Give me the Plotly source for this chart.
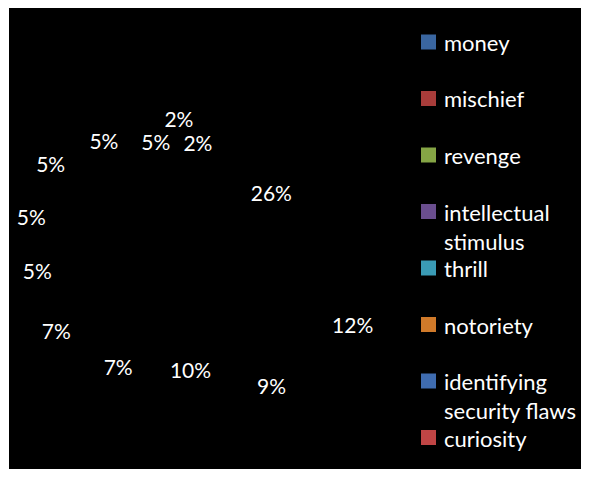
import plotly.graph_objects as go

# ---- data ----
labels = ["money", "mischief", "revenge", "intellectual stimulus", "thrill",
          "notoriety", "identifying security flaws", "curiosity",
          "other 1", "other 2", "other 3", "other 4", "other 5"]
values = [26, 12, 9, 10, 7, 7, 5, 5, 5, 5, 5, 2, 2]
legend_labels = ["money", "mischief", "revenge", "intellectual<br>stimulus", "thrill",
                 "notoriety", "identifying<br>security flaws", "curiosity"]
legend_colors = ["#3A66A0", "#A83C3A", "#85A545", "#6A4E8E", "#3A9BB5",
                 "#D07A2A", "#3F6CB0", "#C04545"]
slice_colors = ["#000000"] * len(values)
# per-slice pull: mimics the tilted (3-D) pie's elliptical label ring
slice_pull = [0.18, 0.63, 0.44, 0.2, 0.36, 0.57, 0.54, 0.62, 0.63, 0.41, 0.17, 0.22, 0.0]

# page body has an 8px margin, so the figure is 16px smaller than the window
W, H = 573, 461
FONT = "Lato, Open Sans, sans-serif"


def fx(px):
    return px / W


def fy(px):
    return 1 - px / H


fig = go.Figure()
fig.add_trace(go.Pie(
    labels=labels, values=values, sort=False, direction="clockwise", rotation=0,
    marker=dict(colors=slice_colors, line=dict(width=0)),
    pull=slice_pull,
    texttemplate="%{percent:.0%}",
    textposition="inside", insidetextorientation="horizontal",
    textfont=dict(color="white", size=21, family=FONT),
    domain=dict(x=[fx(1.5), fx(392.5)], y=[fy(442.5), fy(51.5)]),
    showlegend=False, hoverinfo="label+percent",
))

shapes = [dict(type="rect", xref="paper", yref="paper",
               x0=fx(1), x1=1, y0=0, y1=1,
               fillcolor="black", line=dict(width=0), layer="below")]
annotations = []
top_px, step_px = 34, 56.5
for i, (lab, col) in enumerate(zip(legend_labels, legend_colors)):
    yc = top_px + i * step_px
    shapes.append(dict(type="rect", xref="paper", yref="paper",
                       x0=fx(413), x1=fx(428), y0=fy(yc + 7.5), y1=fy(yc - 7.5),
                       fillcolor=col, line=dict(color=col, width=0)))
    annotations.append(dict(xref="paper", yref="paper", x=fx(434), y=fy(yc - 15),
                            xanchor="left", yanchor="top", align="left", showarrow=False,
                            text=lab, font=dict(color="white", size=22, family=FONT)))

fig.update_layout(
    width=W, height=H, margin=dict(l=0, r=0, t=0, b=0),
    paper_bgcolor="white", plot_bgcolor="white",
    uniformtext=dict(minsize=21, mode="show"),
    shapes=shapes, annotations=annotations, showlegend=False,
)
fig.write_html("out.html")
